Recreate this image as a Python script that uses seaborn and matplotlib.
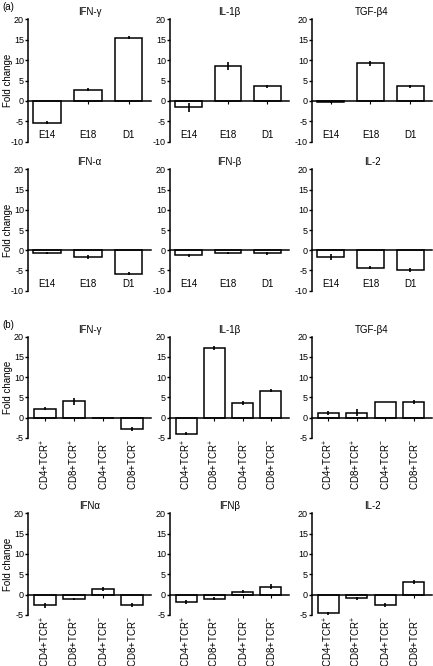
import matplotlib
matplotlib.use("Agg")
import matplotlib.pyplot as plt
import seaborn as sns

# (a) developmental stages
stages = ["E14", "E18", "D1"]
a_titles = ["IFN-γ", "IL-1β", "TGF-β4", "IFN-α", "IFN-β", "IL-2"]
a_vals = [
    [-5.3, 2.8, 15.5],
    [-1.6, 8.5, 3.6],
    [-0.3, 9.2, 3.6],
    [-0.7, -1.6, -5.8],
    [-1.3, -0.7, -0.8],
    [-1.7, -4.3, -4.9],
]
a_errs = [
    [0.4, 0.4, 0.4],
    [1.2, 1.0, 0.4],
    [0.1, 0.6, 0.4],
    [0.3, 0.5, 0.4],
    [0.3, 0.3, 0.3],
    [0.7, 0.4, 0.5],
]

# (b) thymocyte subsets
subsets = ["CD4+TCR$^{+}$", "CD8+TCR$^{+}$", "CD4+TCR$^{-}$", "CD8+TCR$^{-}$"]
b_titles = ["IFN-γ", "IL-1β", "TGF-β4", "IFNα", "IFNβ", "IL-2"]
b_vals = [
    [2.2, 4.0, 0.0, -2.9],
    [-4.0, 17.2, 3.7, 6.6],
    [1.1, 1.2, 3.8, 3.8],
    [-2.6, -1.0, 1.5, -2.6],
    [-1.9, -1.0, 0.7, 2.0],
    [-4.6, -0.9, -2.5, 3.1],
]
b_errs = [
    [0.4, 0.8, 0.0, 0.5],
    [0.4, 0.4, 0.5, 0.4],
    [0.5, 0.8, 0.0, 0.5],
    [0.6, 0.3, 0.5, 0.5],
    [0.5, 0.4, 0.4, 0.5],
    [0.3, 0.3, 0.5, 0.5],
]

sns.set_style("ticks")
plt.rcParams['font.family'] = ['Liberation Sans', 'DejaVu Sans']
plt.rcParams['axes.unicode_minus'] = False
plt.rcParams['mathtext.default'] = 'regular'
for key in ['text.color', 'axes.labelcolor', 'axes.edgecolor',
            'xtick.color', 'ytick.color']:
    plt.rcParams[key] = 'black'

W, H = 433, 666
fig = plt.figure(figsize=(W / 100, H / 100), dpi=100)

cols_px = [(28, 151), (170, 289), (312, 432)]
rows_px = [(19.5, 141.7), (169.3, 290.7), (336.7, 437.7), (513.3, 615)]


def make_ax(col, row):
    x0, x1 = cols_px[col]
    y0, y1 = rows_px[row]
    return fig.add_axes([x0 / W, 1 - y1 / H, (x1 - x0) / W, (y1 - y0) / H])


def style_ax(ax, ylim, yticks, xlim, title, ylabel):
    ax.set_ylim(*ylim)
    ax.set_xlim(*xlim)
    ax.set_yticks(yticks)
    ax.set_yticklabels([str(t) for t in yticks])
    ax.spines['top'].set_visible(False)
    ax.spines['right'].set_visible(False)
    ax.spines['bottom'].set_position(('data', 0))
    ax.spines['left'].set_linewidth(1.1)
    ax.spines['bottom'].set_linewidth(1.1)
    ax.tick_params(axis='y', length=2, width=1, pad=1, labelsize=6.5)
    ax.tick_params(axis='x', length=2, width=0.8, labelbottom=False)
    ax.set_xlabel("")
    ax.set_title(title, fontsize=7, pad=3)
    if ylabel:
        ax.set_ylabel("Fold change", fontsize=7)
        ax.yaxis.set_label_coords(-0.12, 0.5)
    else:
        ax.set_ylabel("")
    ax.patch.set_alpha(0)


def draw_bars(ax, cats, vals, errs, width):
    sns.barplot(x=cats, y=vals, ax=ax, color='white', edgecolor='black',
                linewidth=1.1, width=width, saturation=1)
    ax.errorbar(range(len(cats)), vals, yerr=errs, fmt='none',
                ecolor='black', elinewidth=1.2, capsize=0)


for i in range(6):
    col, row = i % 3, i // 3
    ax = make_ax(col, row)
    draw_bars(ax, stages, a_vals[i], a_errs[i], 0.68)
    style_ax(ax, (-10, 20), [-10, -5, 0, 5, 10, 15, 20], (-0.47, 2.55),
             a_titles[i], col == 0)
    for j, lab in enumerate(stages):
        ax.text(j, -8.4, lab, ha='center', va='center', fontsize=7)

for i in range(6):
    col, row = i % 3, i // 3 + 2
    ax = make_ax(col, row)
    draw_bars(ax, subsets, b_vals[i], b_errs[i], 0.74)
    style_ax(ax, (-5, 20), [-5, 0, 5, 10, 15, 20], (-0.58, 3.65),
             b_titles[i], col == 0)
    for j, lab in enumerate(subsets):
        ax.text(j, -0.01, lab, transform=ax.get_xaxis_transform(),
                rotation=90, ha='center', va='top', fontsize=7)

fig.text(2 / W, 1 - 7 / H, "(a)", fontsize=7, va='center', ha='left')
fig.text(2 / W, 1 - 325 / H, "(b)", fontsize=7, va='center', ha='left')

fig.savefig("out.png", dpi=100)
